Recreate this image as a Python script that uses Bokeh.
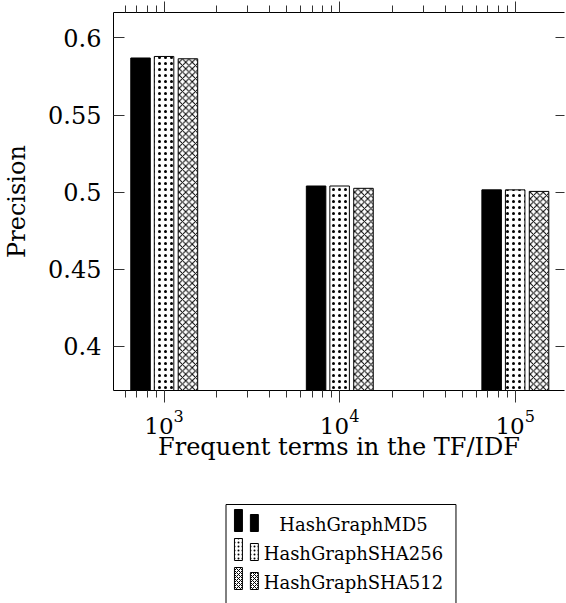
import numpy as np
from bokeh.plotting import figure
from bokeh.models import Range1d, LogAxis, LinearAxis, FixedTicker, LogTicker, ColumnDataSource
from bokeh.layouts import column
from bokeh.embed import file_html
from bokeh.resources import INLINE
from bokeh.core.properties import value

# ---- data ----
terms = [1e3, 1e4, 1e5]
series_names = ["HashGraphMD5", "HashGraphSHA256", "HashGraphSHA512"]
md5 = [0.587, 0.504, 0.5015]
sha256 = [0.588, 0.504, 0.5015]
sha512 = [0.5865, 0.5025, 0.5005]
y_ticks = [0.4, 0.45, 0.5, 0.55, 0.6]
y_tick_labels = ["0.4", "0.45", "0.5", "0.55", "0.6"]
x_title = "Frequent terms in the TF/IDF"
y_title = "Precision"

series_values = [md5, sha256, sha512]

FONT = "DejaVu Serif"
TICK_C = "#333333"

# ---- styles ----
offsets = [-0.134, 0.0, 0.136]   # in decades
half_w = 0.0556                   # in decades
styles = [
    dict(fill_color="black", line_color="black"),
    dict(fill_color="white", line_color="black", hatch_pattern="dot", hatch_color="black",
         hatch_scale=6, hatch_weight=1.3),
    dict(fill_color="white", line_color="black", hatch_pattern="x", hatch_color="black",
         hatch_scale=6.5, hatch_weight=1.0),
]

p = figure(width=566, height=480, x_axis_type="log",
           x_range=Range1d(10 ** 2.712, 10 ** 5.281),
           y_range=Range1d(0.3714, 0.6165),
           output_backend="svg", toolbar_location=None,
           min_border_left=111, min_border_right=0, min_border_top=12, min_border_bottom=90)
p.grid.visible = False
p.outline_line_color = None
p.background_fill_color = "white"

for vals, off, st in zip(series_values, offsets, styles):
    x = np.array(terms)
    src = ColumnDataSource(dict(
        left=x * 10 ** (off - half_w),
        right=x * 10 ** (off + half_w),
        top=vals,
        bottom=[0.0] * len(vals),
    ))
    p.quad(left="left", right="right", top="top", bottom="bottom", source=src,
           line_width=1, **st)

# bottom axis
xa = p.xaxis[0]
xa.ticker = LogTicker(num_minor_ticks=10)
xa.major_tick_in = 0
xa.major_tick_out = 12
xa.minor_tick_in = 0
xa.minor_tick_out = 7
xa.major_tick_line_color = TICK_C
xa.minor_tick_line_color = TICK_C
xa.axis_line_color = "black"
xa.major_label_text_font = FONT
xa.major_label_text_font_size = "23px"
xa.major_label_text_color = "black"
xa.major_label_standoff = 7
xa.axis_label = x_title
xa.axis_label_text_font = FONT
xa.axis_label_text_font_style = "normal"
xa.axis_label_text_font_size = "24px"
xa.axis_label_text_color = "black"
xa.axis_label_standoff = -4

# left axis
ya = p.yaxis[0]
ya.ticker = FixedTicker(ticks=y_ticks)
ya.major_label_overrides = dict(zip(y_ticks, y_tick_labels))
ya.major_tick_in = 11
ya.major_tick_out = 0
ya.minor_tick_line_color = None
ya.major_tick_line_color = TICK_C
ya.axis_line_color = "black"
ya.major_label_text_font = FONT
ya.major_label_text_font_size = "24px"
ya.major_label_text_color = "black"
ya.major_label_standoff = 12
ya.axis_label = y_title
ya.axis_label_text_font = FONT
ya.axis_label_text_font_style = "normal"
ya.axis_label_text_font_size = "24px"
ya.axis_label_text_color = "black"
ya.axis_label_standoff = 14

# top axis (mirrored ticks, no visible labels)
ta = LogAxis(ticker=LogTicker(num_minor_ticks=10))
ta.major_tick_in = 0
ta.major_tick_out = 11
ta.minor_tick_in = 0
ta.minor_tick_out = 7
ta.major_tick_line_color = TICK_C
ta.minor_tick_line_color = TICK_C
ta.axis_line_color = "black"
ta.major_label_text_font_size = "1px"
ta.major_label_text_alpha = 0.0
ta.major_label_standoff = 0
p.add_layout(ta, "above")

# right axis (mirrored inward ticks, no labels)
ra = LinearAxis(ticker=FixedTicker(ticks=y_ticks))
ra.major_tick_in = 9
ra.major_tick_out = 0
ra.minor_tick_line_color = None
ra.major_tick_line_color = TICK_C
ra.axis_line_color = None
ra.major_label_text_font_size = "1px"
ra.major_label_text_alpha = 0.0
ra.major_label_standoff = 0
p.add_layout(ra, "right")

# ---- legend (drawn as a separate panel; data units equal page pixels) ----
LG_L, LG_R, LG_TOP, LG_H = 111, 564, 480, 123
lg = figure(width=566, height=LG_H, x_range=Range1d(LG_L, LG_R), y_range=Range1d(LG_TOP + LG_H, LG_TOP),
            output_backend="svg", toolbar_location=None,
            x_axis_location=None, y_axis_location=None,
            min_border_left=LG_L, min_border_right=566 - LG_R, min_border_top=0, min_border_bottom=0)
lg.grid.visible = False
lg.outline_line_color = None

box_left, box_right, box_top = 224, 455, 504
lg.quad(left=[box_left], right=[box_right], top=[box_top], bottom=[700],
        fill_color=None, line_color="black", line_width=1)

row0, row_step = 530, 29
for i, (name, st) in enumerate(zip(series_names, styles)):
    base = row0 + i * row_step
    lst = dict(st)
    if "hatch_scale" in lst:
        lst["hatch_scale"] = 4
    lg.quad(left=[232.5], right=[240.5], top=[base - 21], bottom=[base + 1], line_width=1, **lst)
    lg.quad(left=[248.5], right=[256.5], top=[base - 16], bottom=[base + 1], line_width=1, **lst)
    lg.text(x=[352], y=[base - 6], text=[name], text_align="center", text_baseline="middle",
            text_font=value(FONT), text_font_size="18px", text_color="black")

layout = column(p, lg, spacing=0)
open("out.html", "w").write(file_html(layout, INLINE))
